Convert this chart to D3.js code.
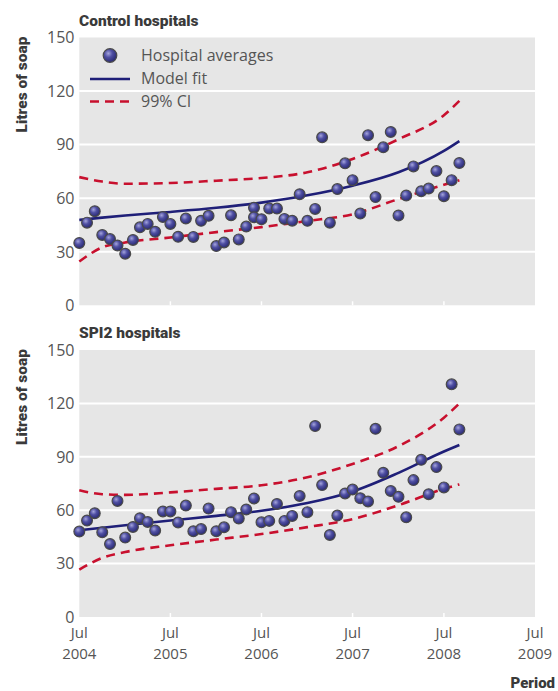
<!DOCTYPE html>
<html><head><meta charset="utf-8">
<script src="https://cdn.jsdelivr.net/npm/d3@7"></script>
<style>
html,body{margin:0;padding:0;background:#fff;}
svg{display:block;}
text{font-family:"Open Sans","DejaVu Sans",sans-serif;}
.bold{font-family:Roboto,"DejaVu Sans",sans-serif;font-weight:900;fill:#3a3a3a;}
</style>
</head><body>
<svg id="chart" width="558" height="691"></svg>
<script>
// ---------- data ----------
const controlDates = ["2004-07","2004-08","2004-09","2004-10","2004-11","2004-12","2005-01","2005-02","2005-03","2005-04","2005-05","2005-06","2005-07","2005-08","2005-09","2005-10","2005-11","2005-12","2006-01","2006-02","2006-03","2006-04","2006-05","2006-06","2006-06","2006-07","2006-08","2006-09","2006-10","2006-11","2006-12","2007-01","2007-02","2007-03","2007-04","2007-05","2007-06","2007-07","2007-08","2007-09","2007-10","2007-11","2007-12","2008-01","2008-02","2008-03","2008-04","2008-05","2008-06","2008-07","2008-08","2008-09"];
const controlValues = [34.9,46.3,52.7,39.4,37.1,33.5,28.9,36.6,43.7,45.6,41.2,49.5,45.6,38.4,48.6,38.3,47.3,50.1,33.2,35.2,50.4,36.9,44.1,54.6,49.3,48.2,54.2,54.2,48.4,47.4,62.2,47.3,54.0,94.1,46.3,65.1,79.5,70.1,51.4,95.3,60.6,88.5,97.1,50.3,61.5,77.8,63.9,65.4,75.2,61.1,70.1,79.7];

const spiDates = ["2004-07","2004-08","2004-09","2004-10","2004-11","2004-12","2005-01","2005-02","2005-03","2005-04","2005-05","2005-06","2005-07","2005-08","2005-09","2005-10","2005-11","2005-12","2006-01","2006-02","2006-03","2006-04","2006-05","2006-06","2006-07","2006-08","2006-09","2006-10","2006-11","2006-12","2007-01","2007-02","2007-03","2007-04","2007-05","2007-06","2007-07","2007-08","2007-09","2007-10","2007-11","2007-12","2008-01","2008-02","2008-03","2008-04","2008-05","2008-06","2008-07","2008-08","2008-09"];
const spiValues = [48.0,54.2,58.3,47.6,41.0,65.2,44.6,50.6,55.5,53.4,48.6,59.3,59.3,53.1,62.6,48.2,49.4,60.9,48.2,50.4,58.9,55.3,60.4,66.6,53.2,54.0,63.5,54.0,56.8,68.0,58.9,107.3,74.1,46.1,57.0,69.4,71.6,66.7,64.9,105.7,81.0,70.8,67.5,56.0,76.9,88.3,69.0,84.2,72.8,130.7,105.4];

const fitDates = ["2004-07","2004-10","2005-01","2005-07","2006-01","2006-07","2007-01","2007-07","2008-01","2008-07","2008-09"];
const controlFit   = [47.8,49.1,50.3,52.3,54.6,57.5,61.6,67.0,74.5,86.5,92.0];
const controlUpper = [71.8,69.3,68.1,68.5,69.8,71.3,74.5,82.0,93.0,106.5,114.5];
const controlLower = [24.5,32.5,35.2,38.0,41.0,43.8,47.2,51.0,59.5,67.5,70.0];
const spiFit   = [48.7,50.1,51.5,54.2,56.8,59.7,64.0,70.5,81.0,93.0,96.6];
const spiUpper = [71.2,69.0,68.6,70.0,72.0,74.0,78.5,86.0,96.0,112.0,120.0];
const spiLower = [26.6,33.2,36.5,40.3,43.5,46.6,50.5,55.0,62.8,72.0,74.5];

const yTicks = [0,30,60,90,120,150];
const xTickDates = ["2004-07","2005-07","2006-07","2007-07","2008-07","2009-07"];
const xTickMonth = ["Jul","Jul","Jul","Jul","Jul","Jul"];
const xTickYear = ["2004","2005","2006","2007","2008","2009"];
const panelTitles = ["Control hospitals","SPI2 hospitals"];
const legendLabels = ["Hospital averages","Model fit","99% CI"];

// ---------- drawing ----------
const parse = d3.timeParse("%Y-%m");
const svg = d3.select("#chart");
const left = 79.3, right = 535;
const x = d3.scaleTime().domain([parse("2004-07"), parse("2009-07")]).range([left, right]);

const defs = svg.append("defs");
const grad = defs.append("radialGradient").attr("id","ball").attr("cx","38%").attr("cy","35%").attr("r","65%");
grad.append("stop").attr("offset","0%").attr("stop-color","#a4a4dc");
grad.append("stop").attr("offset","45%").attr("stop-color","#4f4fa3");
grad.append("stop").attr("offset","100%").attr("stop-color","#2a2a72");

const navy = "#1f1f78", red = "#c8102e";

const panels = [
  {title: panelTitles[0], top: 37.5, bottom: 305.3, dates: controlDates, values: controlValues, fit: controlFit, up: controlUpper, lo: controlLower, legend: true},
  {title: panelTitles[1], top: 350, bottom: 617, dates: spiDates, values: spiValues, fit: spiFit, up: spiUpper, lo: spiLower, legend: false}
];

panels.forEach((p, pi) => {
  const y = d3.scaleLinear().domain([0,150]).range([p.bottom, p.top]);
  const g = svg.append("g");
  g.append("rect").attr("x", left).attr("y", p.top).attr("width", right-left).attr("height", p.bottom-p.top).attr("fill","#e6e6e6");
  g.selectAll(".grid").data(yTicks.filter(v => v>0 && v<150)).enter().append("line")
    .attr("x1", left).attr("x2", right).attr("y1", d=>y(d)).attr("y2", d=>y(d))
    .attr("stroke","#fff").attr("stroke-width",2);
  g.selectAll(".xt").data(xTickDates.slice(1,-1)).enter().append("line")
    .attr("x1", d=>x(parse(d))).attr("x2", d=>x(parse(d)))
    .attr("y1", p.bottom).attr("y2", p.bottom-4)
    .attr("stroke","#fff").attr("stroke-width",1.5);
  g.selectAll(".yl").data(yTicks).enter().append("text")
    .attr("x", 74.5).attr("y", d=>y(d)).attr("dy","0.36em")
    .attr("text-anchor","end").attr("font-size",16).attr("fill","#555")
    .text(d=>d);
  g.append("text").attr("class","bold").attr("x", 79).attr("y", p.top-12).attr("font-size",15.5).text(p.title);
  g.append("text").attr("class","bold").attr("transform",`translate(27,${p.top+47}) rotate(-90)`)
    .attr("text-anchor","middle").attr("font-size",15.5).text("Litres of soap");

  const fd = fitDates.map(parse);
  const line = d3.line().x((d,i)=>x(fd[i])).y(d=>y(d)).curve(d3.curveMonotoneX);
  [p.up, p.lo].forEach(arr => {
    g.append("path").attr("d", line(arr)).attr("fill","none").attr("stroke",red)
      .attr("stroke-width",2.6).attr("stroke-dasharray","9,6");
  });
  g.append("path").attr("d", line(p.fit)).attr("fill","none").attr("stroke",navy).attr("stroke-width",2.6);

  g.selectAll(".pt").data(p.values).enter().append("circle")
    .attr("cx",(d,i)=>x(parse(p.dates[i]))).attr("cy", d=>y(d)).attr("r",5.4)
    .attr("fill","url(#ball)").attr("stroke","#4a4a4a").attr("stroke-width",1.2);

  if (p.legend) {
    const lg = g.append("g");
    lg.append("circle").attr("cx",110).attr("cy",55.5).attr("r",6.8).attr("fill","url(#ball)").attr("stroke","#4a4a4a").attr("stroke-width",1.2);
    lg.append("line").attr("x1",90).attr("x2",130).attr("y1",79).attr("y2",79).attr("stroke",navy).attr("stroke-width",2.6);
    lg.append("line").attr("x1",90).attr("x2",130).attr("y1",101.5).attr("y2",101.5).attr("stroke",red).attr("stroke-width",2.6).attr("stroke-dasharray","9,6");
    lg.selectAll(".lt").data(legendLabels).enter().append("text")
      .attr("x",141).attr("y",(d,i)=>55.5+i*23).attr("dy","0.36em")
      .attr("font-size",16).attr("fill","#555").text(d=>d);
  }
});

// x axis labels
const xl = svg.append("g");
xl.selectAll(".xm").data(xTickDates).enter().append("text")
  .attr("x", d=>x(parse(d))).attr("y", 638).attr("text-anchor","middle").attr("font-size",15).attr("fill","#555")
  .text((d,i)=>xTickMonth[i]);
xl.selectAll(".xy").data(xTickDates).enter().append("text")
  .attr("x", d=>x(parse(d))).attr("y", 658.5).attr("text-anchor","middle").attr("font-size",15).attr("fill","#555")
  .text((d,i)=>xTickYear[i]);
svg.append("text").attr("class","bold").attr("x",555).attr("y",688).attr("text-anchor","end").attr("font-size",15).text("Period");
</script>
</body></html>
